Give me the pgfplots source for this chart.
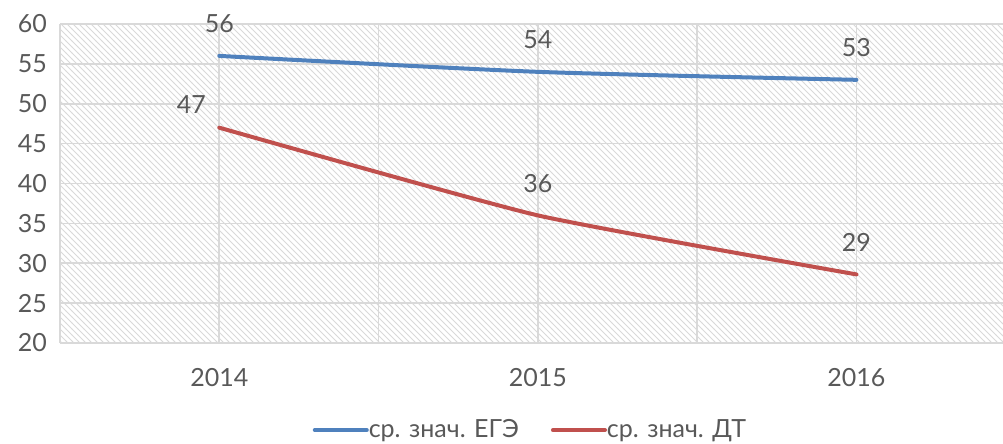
\documentclass[border=0pt]{standalone}
\usepackage{fontspec}
\setmainfont{Lato}
\usepackage{pgfplots}
\pgfplotsset{compat=1.18}
\usetikzlibrary{patterns}
\definecolor{egeblue}{HTML}{4F81BD}
\definecolor{dtred}{HTML}{C0504D}
\definecolor{txtgray}{HTML}{595959}
\definecolor{gridgray}{HTML}{D9D9D9}

\begin{document}
\begin{tikzpicture}
\begin{axis}[
  scale only axis,
  width=471.5pt,height=159.5pt,
  xmin=-0.5,xmax=2.46,
  ymin=20,ymax=60,
  ytick={20,25,...,60},
  xtick={0,1,2},
  xticklabels={2014,2015,2016},
  minor xtick={-0.5,0.5,1.5},
  grid=both,
  major grid style={gridgray,line width=0.8pt},
  minor grid style={gridgray,line width=0.8pt},
  axis line style={draw=none},
  axis x line*=bottom,
  x axis line style={draw=gridgray,line width=0.8pt},
  axis y line*=left,
  y axis line style={draw=none},
  tick style={draw=none},
  font=\fontsize{12.5}{14}\selectfont,
  tick label style={text=txtgray},
  /pgf/number format/assume math mode=true,
  yticklabel style={xshift=-3pt},
  xticklabel style={yshift=-9pt},
  axis background/.style={pattern=north west lines,pattern color=gray!30},
  legend style={at={(0.5,-0.273)},anchor=center,draw=none,
    legend columns=2,text=txtgray,
    /tikz/every odd column/.append style={column sep=-2pt},
    /tikz/every even column/.append style={column sep=14pt}},
  legend image code/.code={\draw[#1,line width=2pt,line cap=round] (0pt,0pt) -- (26pt,0pt);},
  legend cell align=left,
  nodes near coords,
  nodes near coords style={text=txtgray,anchor=center,yshift=16pt},
  clip=false,
]
\addplot[egeblue,line width=2pt,smooth,tension=0.4,line cap=round,
  point meta=explicit symbolic]
  coordinates {(0,56)[56] (1,54)[54] (2,53)[53]};
\addlegendentry{ср. знач. ЕГЭ}
\addplot[dtred,line width=2pt,smooth,tension=0.3,line cap=round,
  point meta=explicit symbolic,
  coordinate style/.condition={\coordindex==0}{xshift=-14pt,yshift=-4.5pt}]
  coordinates {(0,47)[47] (1,36)[36] (2,28.6)[29]};
\addlegendentry{ср. знач. ДТ}
\end{axis}
\pgfresetboundingbox
\path[use as bounding box] ([xshift=-30pt,yshift=-50pt]current axis.south west) rectangle ([yshift=12pt]current axis.north east);
\end{tikzpicture}
\end{document}
